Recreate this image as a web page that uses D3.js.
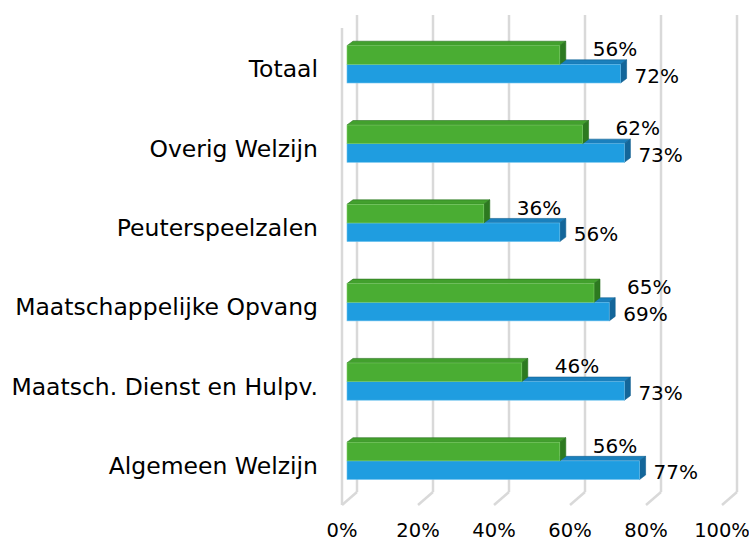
<!DOCTYPE html>
<html>
<head>
<meta charset="utf-8">
<script src="https://cdn.jsdelivr.net/npm/d3@7"></script>
<style>
  body { margin: 0; background: #fff; }
  text { font-family: "DejaVu Sans", Verdana, sans-serif; fill: #000; }
</style>
</head>
<body>
<div id="chart"></div>
<script>
// categorieen van boven naar onder
var categories = ["Totaal", "Overig Welzijn", "Peuterspeelzalen", "Maatschappelijke Opvang", "Maatsch. Dienst en Hulpv.", "Algemeen Welzijn"];
var greenValues = [0.56, 0.62, 0.36, 0.65, 0.46, 0.56];
var blueValues = [0.72, 0.73, 0.56, 0.69, 0.73, 0.77];
var tickValues = [0, 0.2, 0.4, 0.6, 0.8, 1.0];
var tickLabels = ["0%", "20%", "40%", "60%", "80%", "100%"];

var width = 749, height = 541;
var svg = d3.select("#chart").append("svg")
    .attr("width", width).attr("height", height);

var x = d3.scaleLinear().domain([0, 1]).range([347, 727]);
var y = d3.scaleBand().domain(categories).range([24.7, 500.5])
    .paddingInner(0.53).paddingOuter(0.265);

// diepte van het 3D effect
var dx = 6, dy = -4.5;
var backTop = 15, backBottom = 492, frontBottom = 505;

// rasterlijnen (achterwand + vloer)
var grid = svg.append("g").attr("stroke", "#d9d9d9").attr("stroke-width", 2.5).attr("fill", "none");
grid.selectAll(".back").data(tickValues).enter().append("line")
    .attr("x1", function(d){ return x(d) + 10; }).attr("x2", function(d){ return x(d) + 10; })
    .attr("y1", backTop).attr("y2", backBottom);
grid.selectAll(".floor").data(tickValues).enter().append("line")
    .attr("x1", function(d){ return x(d) + 10; }).attr("y1", backBottom)
    .attr("x2", function(d){ return x(d) - 5; }).attr("y2", frontBottom);
grid.append("line").attr("x1", x(0) - 5).attr("x2", x(0) - 5).attr("y1", 28).attr("y2", frontBottom);

function bar3d(g, x0, x1, y0, h, c) {
    // bovenvlak
    g.append("path").attr("d", "M" + x0 + "," + y0 + "L" + (x0 + dx) + "," + (y0 + dy) +
        "L" + (x1 + dx) + "," + (y0 + dy) + "L" + x1 + "," + y0 + "Z")
        .attr("fill", c.top).attr("stroke", c.edge).attr("stroke-width", 0.6);
    // zijvlak
    g.append("path").attr("d", "M" + x1 + "," + y0 + "L" + (x1 + dx) + "," + (y0 + dy) +
        "L" + (x1 + dx) + "," + (y0 + h + dy) + "L" + x1 + "," + (y0 + h) + "Z")
        .attr("fill", c.side).attr("stroke", c.edge).attr("stroke-width", 0.6);
    // voorvlak
    g.append("rect").attr("x", x0).attr("y", y0).attr("width", x1 - x0).attr("height", h)
        .attr("fill", c.front).attr("stroke", c.light).attr("stroke-width", 0.6);
}

var blueCol = {front: "#1f9de0", top: "#1a80bd", side: "#13669a", edge: "#126090", light: "#6cc1ee"};
var greenCol = {front: "#4aad33", top: "#42a02d", side: "#2d7a20", edge: "#2a7020", light: "#7fcf6a"};

var bars = svg.append("g");
var labels = svg.append("g");
var bh = y.bandwidth() / 2;

categories.forEach(function(cat, i) {
    var top = y(cat);
    var mid = top + bh;
    var g = bars.append("g");
    bar3d(g, x(0), x(blueValues[i]), mid, bh, blueCol);
    bar3d(g, x(0), x(greenValues[i]), top, bh, greenCol);

    labels.append("text").attr("x", x(greenValues[i]) + 33).attr("y", top + bh / 2 + 1)
        .attr("font-size", 20).text(Math.round(greenValues[i] * 100) + "%");
    labels.append("text").attr("x", x(blueValues[i]) + 14).attr("y", mid + bh / 2 + 9)
        .attr("font-size", 20).text(Math.round(blueValues[i] * 100) + "%");

    labels.append("text").attr("x", 318).attr("y", mid + 13)
        .attr("text-anchor", "end").attr("font-size", 23.5).text(cat);
});

// x-as labels
svg.append("g").selectAll("text").data(tickValues).enter().append("text")
    .attr("x", function(d){ return x(d) - 5; }).attr("y", 537)
    .attr("text-anchor", "middle").attr("font-size", 19.5)
    .text(function(d, i){ return tickLabels[i]; });
</script>
</body>
</html>
